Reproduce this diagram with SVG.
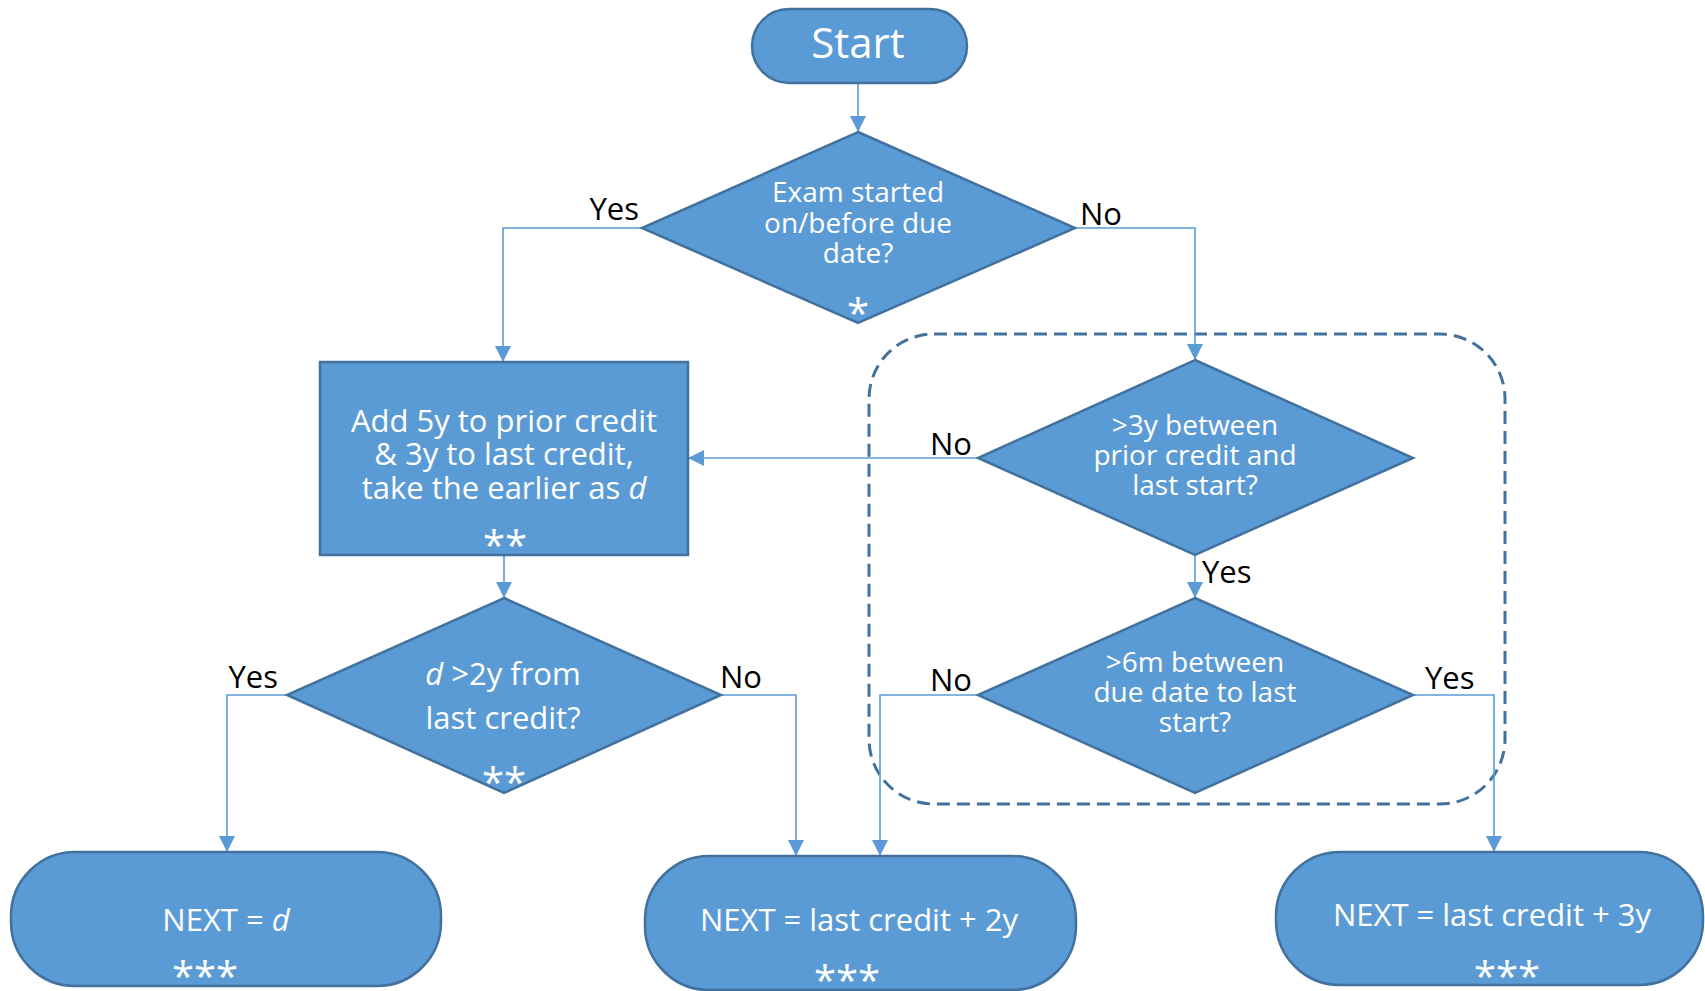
<svg xmlns="http://www.w3.org/2000/svg" width="1705" height="991" viewBox="0 0 1705 991">
<defs>
<style>
.node{fill:#5B9BD5;stroke:#41719C;stroke-width:2.5}
.t{font-family:"Open Sans","Noto Sans","DejaVu Sans",sans-serif;font-size:28px;fill:#ffffff;text-anchor:middle}
.tb{font-family:"Open Sans","Noto Sans","DejaVu Sans",sans-serif;font-size:31px;fill:#ffffff;text-anchor:middle}
.ast{font-family:"Open Sans","Noto Sans","DejaVu Sans",sans-serif;font-size:40px;fill:#ffffff;text-anchor:middle}
.lbl{font-family:"Open Sans","Noto Sans","DejaVu Sans",sans-serif;font-size:31px;fill:#000000}
.conn{fill:none;stroke:#5B9BD5;stroke-width:1.6;marker-end:url(#arr)}
.group{fill:none;stroke:#41719C;stroke-width:3;stroke-dasharray:13 7}
</style>
<marker id="arr" markerUnits="userSpaceOnUse" markerWidth="16" markerHeight="16" refX="16" refY="8" orient="auto">
<path d="M0,0 L16,8 L0,16 z" fill="#5B9BD5"/>
</marker>
</defs>
<rect width="1705" height="991" fill="#ffffff"/>

<g id="group-box">
<rect class="group" x="869" y="334" width="636" height="470" rx="65" ry="65"/>
</g>

<g id="connectors">
<path class="conn" d="M858,83 L858,132"/>
<path class="conn" d="M642,228 L503,228 L503,362"/>
<path class="conn" d="M1077,228 L1195,228 L1195,360"/>
<path class="conn" d="M978,458 L688,458"/>
<path class="conn" d="M1195,555 L1195,598"/>
<path class="conn" d="M504,555 L504,598"/>
<path class="conn" d="M287,695 L227,695 L227,852"/>
<path class="conn" d="M721,695 L796,695 L796,856"/>
<path class="conn" d="M978,695 L880,695 L880,856"/>
<path class="conn" d="M1413,695 L1494,695 L1494,852"/>
<text class="lbl" x="639" y="220" text-anchor="end">Yes</text>
<text class="lbl" x="1080" y="225">No</text>
<text class="lbl" x="972" y="455" text-anchor="end">No</text>
<text class="lbl" x="1202" y="583">Yes</text>
<text class="lbl" x="278" y="688" text-anchor="end">Yes</text>
<text class="lbl" x="720" y="688">No</text>
<text class="lbl" x="972" y="691" text-anchor="end">No</text>
<text class="lbl" x="1425" y="689">Yes</text>
</g>

<g id="start">
<rect class="node" x="752" y="9" width="215" height="74" rx="37" ry="37"/>
<text class="t" x="858" y="58" style="font-size:42px">Start</text>
</g>

<g id="d1">
<polygon class="node" points="858,132 1075,228 858,323 642,228"/>
<text class="t"><tspan x="858" y="202">Exam started</tspan><tspan x="858" y="233">on/before due</tspan><tspan x="858" y="263">date?</tspan></text>
<text class="ast" x="858" y="328">*</text>
</g>

<g id="box">
<rect class="node" x="320" y="362" width="368" height="193"/>
<text class="tb"><tspan x="504" y="432">Add 5y to prior credit</tspan><tspan x="504" y="465">&amp; 3y to last credit,</tspan><tspan x="504" y="499">take the earlier as <tspan font-style="italic">d</tspan></tspan></text>
<text class="ast" x="505" y="560">**</text>
</g>

<g id="d2">
<polygon class="node" points="1195,360 1413,458 1195,555 978,458"/>
<text class="t"><tspan x="1195" y="435">&gt;3y between</tspan><tspan x="1195" y="465">prior credit and</tspan><tspan x="1195" y="495">last start?</tspan></text>
</g>

<g id="d3">
<polygon class="node" points="1195,598 1413,695 1195,793 978,695"/>
<text class="t"><tspan x="1195" y="672">&gt;6m between</tspan><tspan x="1195" y="702">due date to last</tspan><tspan x="1195" y="732">start?</tspan></text>
</g>

<g id="d4">
<polygon class="node" points="504,598 721,695 504,793 287,695"/>
<text class="tb"><tspan x="503" y="685"><tspan font-style="italic">d</tspan> &gt;2y from</tspan><tspan x="503" y="729">last credit?</tspan></text>
<text class="ast" x="504" y="797">**</text>
</g>

<g id="next1">
<rect class="node" x="11" y="852" width="430" height="134" rx="64" ry="64"/>
<text class="tb" x="226" y="931">NEXT = <tspan font-style="italic">d</tspan></text>
<text class="ast" x="205" y="991">***</text>
</g>

<g id="next2">
<rect class="node" x="645" y="856" width="431" height="134" rx="64" ry="64"/>
<text class="tb" x="859" y="931">NEXT = last credit + 2y</text>
<text class="ast" x="847" y="995">***</text>
</g>

<g id="next3">
<rect class="node" x="1276" y="852" width="427" height="133" rx="64" ry="64"/>
<text class="tb" x="1492" y="926">NEXT = last credit + 3y</text>
<text class="ast" x="1507" y="991">***</text>
</g>
</svg>
